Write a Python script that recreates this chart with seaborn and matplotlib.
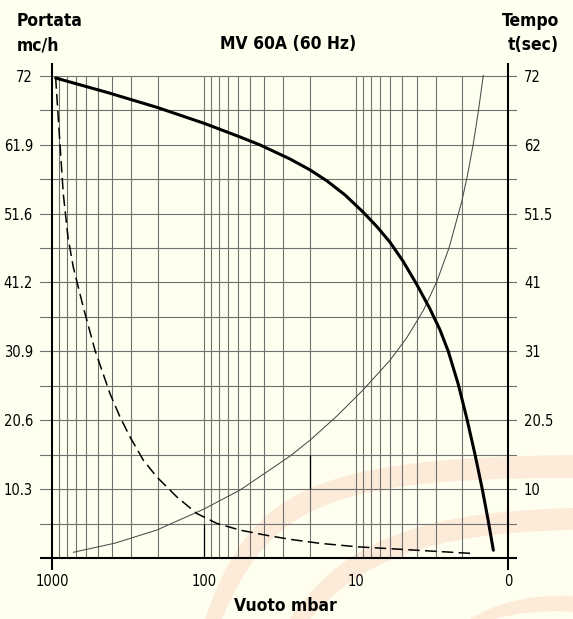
import numpy as np
import pandas as pd
import matplotlib
matplotlib.use("Agg")
import matplotlib.pyplot as plt
from matplotlib.path import Path
from matplotlib.patches import PathPatch
from matplotlib import font_manager as fm
import seaborn as sns

# ---------------- data ----------------
portata_vuoto = [945.5, 436.8, 204.7, 98.5, 57.98, 42.81, 27.18, 20.07, 15.51, 11.81, 8.99, 7.28,
                 5.975, 4.907, 3.969, 3.261, 2.802, 2.470, 2.123, 1.870, 1.649, 1.476, 1.354, 1.249]
portata_val = [71.66, 69.53, 67.29, 64.85, 62.86, 61.67, 59.57, 57.94, 56.29, 54.20, 51.65, 49.46,
               47.14, 44.32, 40.77, 37.18, 34.05, 30.83, 25.91, 20.90, 15.46, 10.24, 5.74, 1.16]

tempo_vuoto = [724.2, 385.0, 204.7, 101.1, 57.98, 39.70, 27.18, 20.07, 13.40, 8.95, 5.975, 4.640,
               3.608, 2.945, 2.444, 2.017, 1.847, 1.692, 1.568, 1.454]
tempo_val = [0.85, 2.22, 4.17, 7.26, 10.14, 12.67, 15.21, 17.59, 21.17, 25.13, 29.52, 32.87,
             36.95, 41.25, 46.29, 53.20, 57.18, 61.85, 66.69, 72.06]

dashed_vuoto = [945.5, 900.9, 842.7, 784.8, 724.2, 622.5, 521.3, 415.4, 356.9, 306.8, 250.8, 204.7,
                151.2, 111.7, 82.5, 57.98, 39.70, 27.18, 17.25, 9.89, 4.198, 1.778]
dashed_val = [71.66, 64.29, 54.37, 47.90, 43.42, 37.46, 31.01, 24.55, 21.06, 18.08, 14.61, 12.12,
              9.14, 6.66, 5.17, 4.17, 3.43, 2.79, 2.19, 1.68, 1.19, 0.70]

x_ticks = [1000, 100, 10, 1]
x_tick_labels = ["1000", "100", "10", "0"]
y_ticks = [72 * k / 7 for k in range(1, 8)]
left_labels = ["10.3", "20.6", "30.9", "41.2", "51.6", "61.9", "72"]
right_labels = ["10", "20.5", "31", "41", "51.5", "62", "72"]
h_grid = [72 * k / 14 for k in range(1, 15)]
v_grid = [d * m for d in (1, 10, 100) for m in range(2, 10)] + [10, 100]
black_seg_x = [100, 20]
black_seg_y0 = [0, 72 * 2 / 14]
black_seg_y1 = [72 / 14, 72 * 3 / 14]

title = "MV 60A (60 Hz)"

# ---------------- style ----------------
sns.set_style("white")

# choose a narrow font if one is installed
names = {f.name for f in fm.fontManager.ttflist}
stretches = {(f.name, str(f.stretch)) for f in fm.fontManager.ttflist}
if "Liberation Sans Narrow" in names:
    FAM, STRETCH, TS, LS = "Liberation Sans Narrow", "normal", 11.5, 14
elif ("DejaVu Sans", "condensed") in stretches or ("DejaVu Sans", "semi-condensed") in stretches:
    FAM, STRETCH, TS, LS = "DejaVu Sans", "condensed", 10.5, 12.5
else:
    FAM, STRETCH, TS, LS = "DejaVu Sans", "normal", 9.5, 12

plt.rcParams["font.family"] = [FAM, "DejaVu Sans"]
plt.rcParams["font.stretch"] = STRETCH
plt.rcParams["text.color"] = "black"
plt.rcParams["xtick.color"] = "black"
plt.rcParams["ytick.color"] = "black"

BG = "#fffff0"
W, H = 573, 619

fig = plt.figure(figsize=(W / 100, H / 100), dpi=100, facecolor=BG)

def fx(px):
    return px / W

def fy(py):
    return 1 - py / H

# faint watermark swooshes (background decoration)
wm = "#fdebd9"
def crescent(outer, inner):
    verts = [(fx(a), fy(b)) for a, b in outer] + [(fx(a), fy(b)) for a, b in inner[::-1]]
    verts.append(verts[0])
    codes = [Path.MOVETO, Path.CURVE4, Path.CURVE4, Path.CURVE4,
             Path.LINETO, Path.CURVE4, Path.CURVE4, Path.CURVE4, Path.CLOSEPOLY]
    p = PathPatch(Path(verts, codes), transform=fig.transFigure, facecolor=wm,
                  edgecolor="none", zorder=-5)
    fig.patches.append(p)

crescent([(205, 619), (250, 490), (310, 458), (573, 455)],
         [(222, 619), (270, 505), (330, 478), (573, 478)])
crescent([(290, 619), (340, 545), (410, 512), (573, 508)],
         [(310, 619), (360, 562), (425, 533), (573, 530)])
crescent([(470, 619), (500, 600), (540, 594), (573, 596)],
         [(495, 619), (520, 612), (550, 610), (573, 612)])

ax = fig.add_axes([fx(40), fy(570), fx(517) - fx(40), fy(63) - fy(570)])
ax.set_facecolor("none")
ax.set_xscale("log")
ax.set_xlim(1199, 0.873)
ax.set_ylim(-1.79, 73.9)
for s in ax.spines.values():
    s.set_visible(False)

# grid
for yv in h_grid:
    ax.axhline(yv, color="#707070", lw=0.8, zorder=1)
ax.vlines(v_grid, 0, 72, color="#707070", lw=0.8, zorder=1)
ax.vlines(black_seg_x, black_seg_y0, black_seg_y1, color="black", lw=0.9, zorder=2)

# frame lines
ax.axhline(0, color="black", lw=1.5, zorder=3)
ax.axvline(1000, color="black", lw=1.5, zorder=3)
ax.axvline(1, color="black", lw=1.5, zorder=3)

# curves
df_p = pd.DataFrame({"vuoto": portata_vuoto, "val": portata_val})
df_t = pd.DataFrame({"vuoto": tempo_vuoto, "val": tempo_val})
df_d = pd.DataFrame({"vuoto": dashed_vuoto, "val": dashed_val})
sns.lineplot(data=df_t, x="vuoto", y="val", ax=ax, color="#4a4a4a", lw=0.75, zorder=4)
sns.lineplot(data=df_d, x="vuoto", y="val", ax=ax, color="black", lw=1.1, zorder=4)
ax.lines[-1].set_dashes([7.5, 3.5])
sns.lineplot(data=df_p, x="vuoto", y="val", ax=ax, color="black", lw=2.2, zorder=5)

ax.set_xlabel("")
ax.set_ylabel("")
ax.set_xticks(x_ticks, x_tick_labels)
ax.minorticks_off()
ax.set_yticks(y_ticks, left_labels)
ax.tick_params(axis="both", length=0, labelsize=TS, colors="black")
ax.tick_params(axis="y", pad=5)
ax.tick_params(axis="x", pad=3)

ax2 = ax.twinx()
ax2.set_ylim(ax.get_ylim())
ax2.set_yticks(y_ticks, right_labels)
ax2.tick_params(axis="y", length=0, labelsize=TS, pad=5, colors="black")
for s in ax2.spines.values():
    s.set_visible(False)

# titles
fig.text(fx(288), fy(44), title, ha="center", va="center", fontsize=LS, fontweight="bold")
fig.text(fx(17), fy(21), "Portata", ha="left", va="center", fontsize=LS, fontweight="bold")
fig.text(fx(17), fy(45), "mc/h", ha="left", va="center", fontsize=LS, fontweight="bold")
fig.text(fx(559), fy(21), "Tempo", ha="right", va="center", fontsize=LS, fontweight="bold")
fig.text(fx(559), fy(45), "t(sec)", ha="right", va="center", fontsize=LS, fontweight="bold")
fig.text(fx(285), fy(606), "Vuoto mbar", ha="center", va="center", fontsize=LS, fontweight="bold")

fig.savefig("out.png", dpi=100, facecolor=BG)
